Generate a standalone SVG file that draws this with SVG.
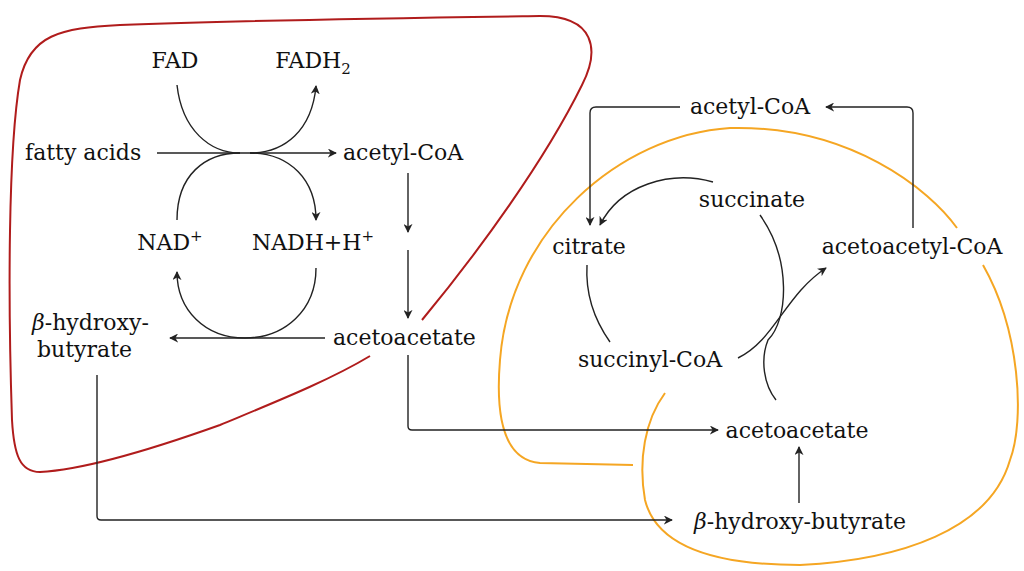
<svg xmlns="http://www.w3.org/2000/svg" width="1024" height="571" viewBox="0 0 1024 571">
<style>
text{font-family:"DejaVu Serif",serif;font-size:22px;fill:#111}
.c{stroke:#222;stroke-width:1.4;fill:none}
.a{marker-end:url(#ah)}
</style>
<defs><marker id="ah" viewBox="0 0 10 10" refX="9" refY="5" markerWidth="9" markerHeight="9" markerUnits="userSpaceOnUse" orient="auto"><path d="M0,0 L10,5 L0,10 L3,5 Z" fill="#222"/></marker></defs>
<rect width="1024" height="571" fill="#fff"/>
<g id="liver"><path d="M370,356 C330,380 280,400 220,425 C150,450 80,470 40,472 C20,472 14,455 12,420 C8,300 8,150 20,80 C30,35 60,28 120,25 C250,20 400,18 540,16 C595,16 600,50 582,85 C545,160 480,250 422,320" fill="none" stroke="#b01c1c" stroke-width="2"/></g>
<g id="tissue" fill="none" stroke="#f5a623" stroke-width="2">
<path d="M633,465 L540,463 C505,460 495,420 500,360 C510,230 620,135 730,128 C850,125 930,190 957,228"/>
<path d="M983,265 C1020,330 1025,420 1010,460 C990,530 900,560 800,565 C700,565 655,540 645,500 C638,460 645,420 665,393"/>
</g>
<g id="connectors">
<path class="c a" d="M157,153 L336,153"/>
<path class="c" d="M177,85 C182,130 210,153 240,153"/>
<path class="c a" d="M250,153 C285,153 312,130 316,86"/>
<path class="c" d="M177,220 C177,175 205,153 240,153"/>
<path class="c a" d="M250,153 C290,153 316,180 316,220"/>
<path class="c a" d="M316,268 C316,310 285,338 245,338 C205,338 177,310 177,272"/>
<path class="c a" d="M408,173 L408,232"/>
<path class="c a" d="M408,250 L408,318"/>
<path class="c a" d="M325,338 L170,338"/>
<path class="c a" d="M408,355 L408,426 Q408,430 412,430 L718,430"/>
<path class="c a" d="M97,375 L97,516 Q97,520 101,520 L672,520"/>
<path class="c a" d="M680,107 L596,107 Q590,107 590,113 L590,225"/>
<path class="c a" d="M913,228 L913,113 Q913,107 907,107 L826,107"/>
<path class="c a" d="M713,182 C670,170 620,185 600,225"/>
<path class="c" d="M587,265 C585,300 598,325 610,342"/>
<path class="c" d="M760,215 C792,260 788,320 768,340 C760,360 764,385 776,400"/>
<path class="c a" d="M738,358 C775,340 785,295 826,268"/>
<path class="c a" d="M799,503 L799,447"/>
</g>
<g id="n-fad"><text x="175" y="68" text-anchor="middle">FAD</text></g>
<g id="n-fadh2"><text x="313" y="68" text-anchor="middle">FADH<tspan font-size="15" dy="6">2</tspan></text></g>
<g id="n-fatty"><text x="25" y="160">fatty acids</text></g>
<g id="n-acetylcoa1"><text x="343" y="160">acetyl-CoA</text></g>
<g id="n-nad"><text x="170" y="250" text-anchor="middle">NAD<tspan font-size="15" dy="-9">+</tspan></text></g>
<g id="n-nadh"><text x="313" y="250" text-anchor="middle">NADH+H<tspan font-size="15" dy="-9">+</tspan></text></g>
<g id="n-bhb1"><text x="32" y="330"><tspan font-style="italic">β</tspan>-hydroxy-</text><text x="37" y="357">butyrate</text></g>
<g id="n-aa1"><text x="333" y="345">acetoacetate</text></g>
<g id="n-acetylcoa2"><text x="750" y="114" text-anchor="middle">acetyl-CoA</text></g>
<g id="n-succinate"><text x="752" y="207" text-anchor="middle">succinate</text></g>
<g id="n-citrate"><text x="589" y="254" text-anchor="middle">citrate</text></g>
<g id="n-aacoa"><text x="912" y="254" text-anchor="middle">acetoacetyl-CoA</text></g>
<g id="n-succoa"><text x="650" y="367" text-anchor="middle">succinyl-CoA</text></g>
<g id="n-aa2"><text x="797" y="438" text-anchor="middle">acetoacetate</text></g>
<g id="n-bhb2"><text x="800" y="529" text-anchor="middle"><tspan font-style="italic">β</tspan>-hydroxy-butyrate</text></g>
</svg>
